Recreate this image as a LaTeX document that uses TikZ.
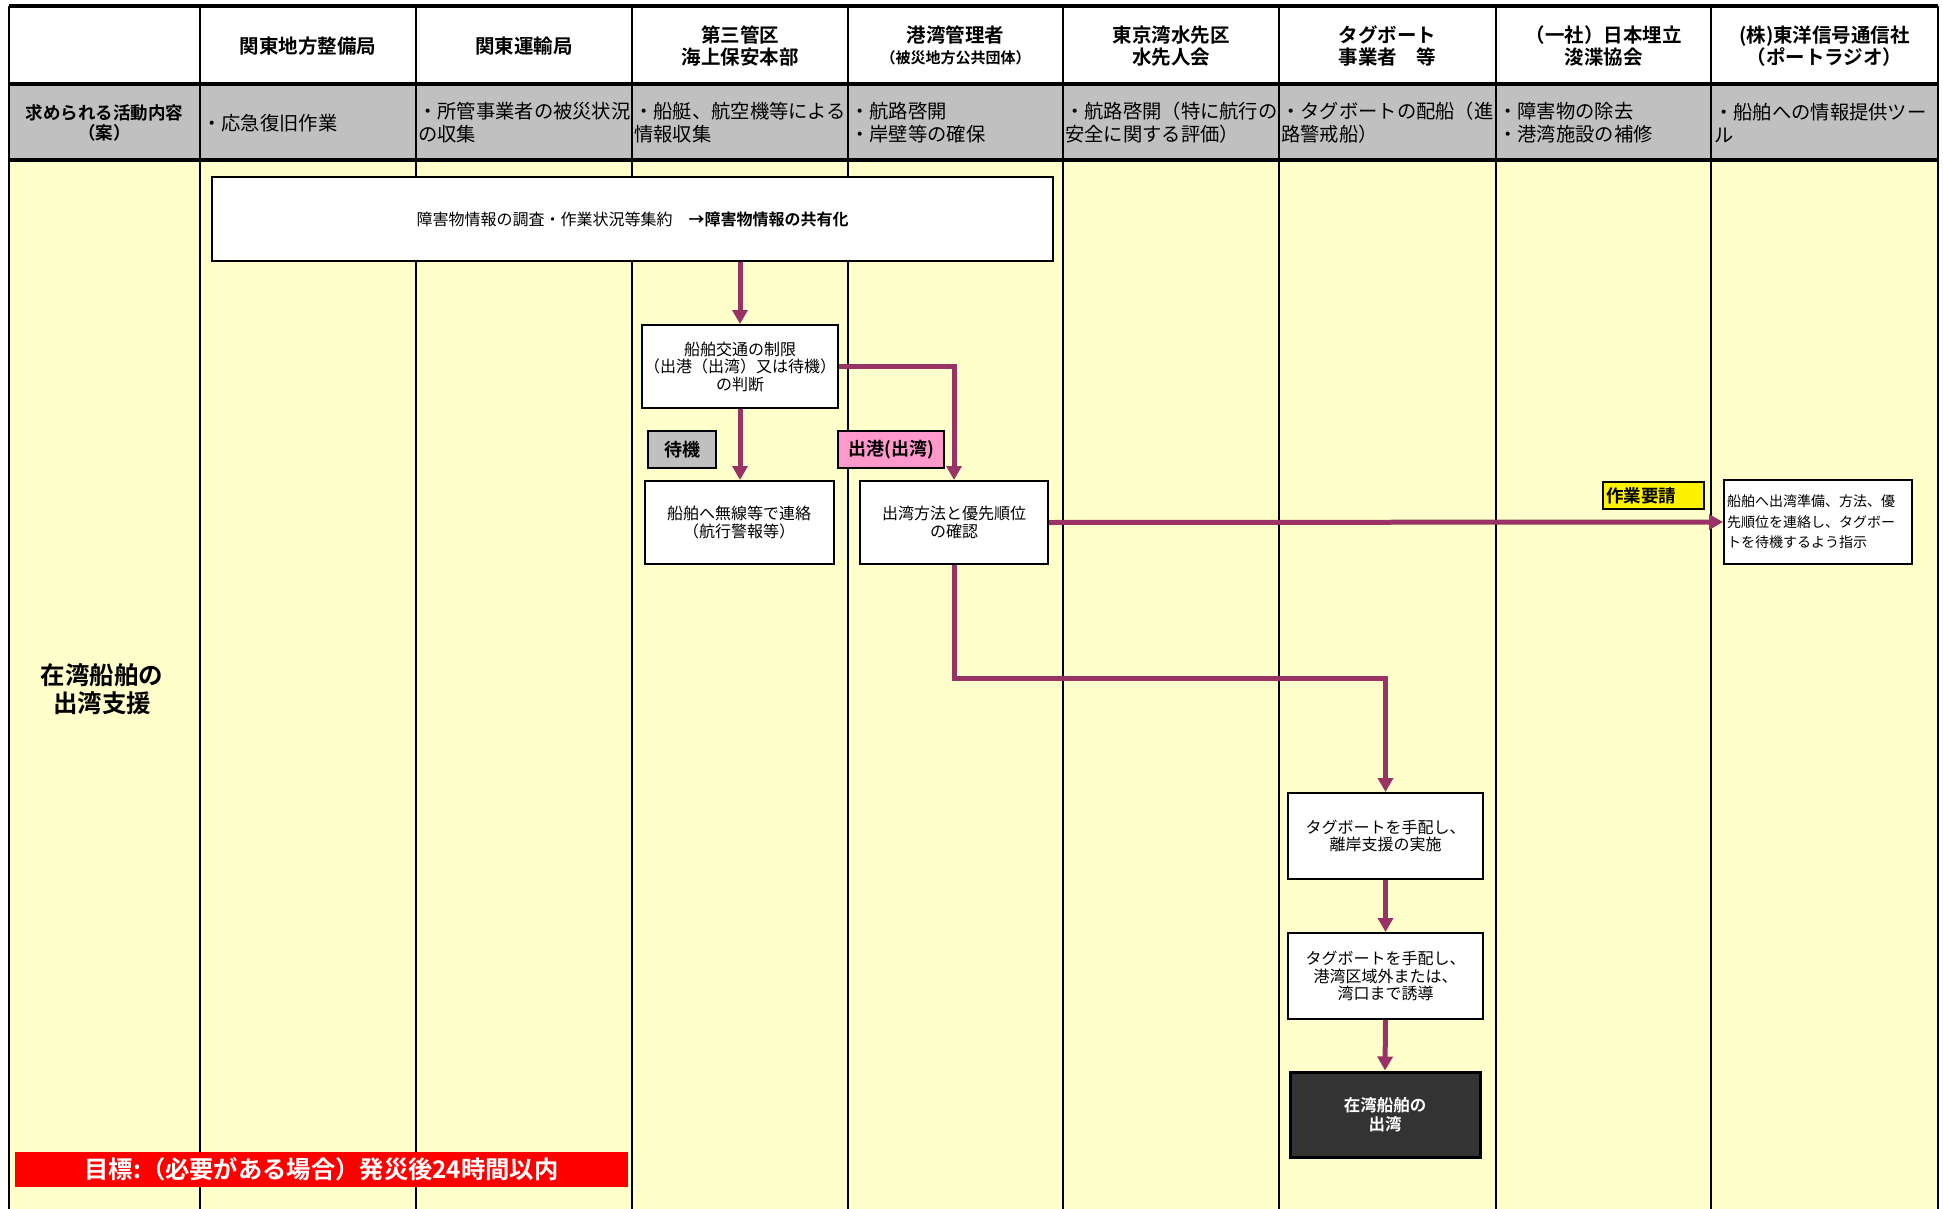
\documentclass[tikz,border=0pt]{standalone}
\usepackage{fontspec}
\setmainfont{Noto Sans CJK JP}[BoldFont={* Bold}]
\usetikzlibrary{arrows.meta}
\definecolor{bgyellow}{HTML}{FFFFCC}
\definecolor{rowgrey}{HTML}{C0C0C0}
\definecolor{arrowc}{HTML}{993366}
\definecolor{pinklab}{HTML}{FF99CC}
\definecolor{darkbox}{HTML}{333333}
\begin{document}
\begin{tikzpicture}[x=1pt,y=-1pt,
  hdr/.style={font=\bfseries\fontsize{19.5}{22}\selectfont,align=center,inner sep=0pt},
  act/.style={font=\fontsize{19.3}{23}\selectfont,align=left,anchor=west,inner sep=1pt},
  box/.style={draw,line width=2pt,fill=white,align=center,inner sep=2pt,font=\fontsize{16}{17.5}\selectfont},
  lab/.style={draw,line width=2pt,align=center,inner sep=0pt,font=\bfseries\fontsize{18}{20}\selectfont},
  arr/.style={draw=arrowc,line width=5pt,-{Triangle[length=14pt,width=15pt]}},
  grid/.style={line width=2.5pt},
  rowline/.style={line width=3.5pt}]
\useasboundingbox (0,0) rectangle (1943,1209);
\fill[white] (0,0) rectangle (1943,1209);
\fill[bgyellow] (9,160) rectangle (1938,1209);
\fill[rowgrey] (9,84) rectangle (1938,160);
\foreach \x in {9,200,416,632,848,1063,1279,1496,1711,1938}
  \draw[grid] (\x,6) -- (\x,1209);
\foreach \y in {6,84,160}
  \draw[rowline] (9,\y) -- (1938,\y);

% header row
\node[hdr] (h1) at (308,46) {関東地方整備局};
\node[hdr] (h2) at (524,46) {関東運輸局};
\node[hdr] (h3) at (740,46) {第三管区\\海上保安本部};
\node[hdr,font=\bfseries\fontsize{19.5}{21}\selectfont] (h4) at (955.5,45) {港湾管理者\\{\fontsize{15}{16}\selectfont（被災地方公共団体）}};
\node[hdr] (h5) at (1171,46) {東京湾水先区\\水先人会};
\node[hdr] (h6) at (1387.5,46) {タグボート\\事業者　等};
\node[hdr] (h7) at (1603.5,46) {（一社）日本埋立\\浚渫協会};
\node[hdr] (h8) at (1824.5,46) {(株)東洋信号通信社\\（ポートラジオ）};

% activity row
\node[hdr,font=\bfseries\fontsize{17.5}{20}\selectfont] (a0) at (104.5,123) {求められる活動内容\\（案）};
\node[act] (a1) at (201,123) {・応急復旧作業};
\node[act] (a2) at (417,123) {・所管事業者の被災状況\\の収集};
\node[act] (a3) at (633,123) {・船艇、航空機等による\\情報収集};
\node[act] (a4) at (849,123) {・航路啓開\\・岸壁等の確保};
\node[act] (a5) at (1064,123) {・航路啓開（特に航行の\\安全に関する評価）};
\node[act] (a6) at (1280,123) {・タグボートの配船（進\\路警戒船）};
\node[act] (a7) at (1497,123) {・障害物の除去\\・港湾施設の補修};
\node[act] (a8) at (1713,123) {・船舶への情報提供ツー\\ル};

% row label
\node[font=\bfseries\fontsize{24.5}{28}\selectfont,align=center] (goal) at (102,689) {在湾船舶の\\出湾支援};

% flow boxes
\node[box,minimum width=841,minimum height=84] (big) at (632.5,219) {障害物情報の調査・作業状況等集約　\textbf{→障害物情報の共有化}};
\node[box,minimum width=195,minimum height=83] (judge) at (740,366.5) {船舶交通の制限\\（出港（出湾）又は待機）\\の判断};
\node[box,minimum width=189,minimum height=83] (radio) at (739,522.5) {船舶へ無線等で連絡\\（航行警報等）};
\node[box,minimum width=188,minimum height=83] (order) at (954,522.5) {出湾方法と優先順位\\の確認};
\node[lab,fill=rowgrey,minimum width=68,minimum height=37] (wait) at (682,449.5) {待機};
\node[lab,fill=pinklab,minimum width=106,minimum height=37] (depart) at (891,449.5) {出港(出湾)};
\node[lab,fill=yellow,minimum height=27,text width=95,align=left,inner xsep=3pt,font=\bfseries\fontsize{17.5}{18}\selectfont] (req) at (1653.5,495.5) {作業要請};
\node[box,minimum width=188,minimum height=84,text width=182,align=left,inner sep=3pt,font=\fontsize{14}{20.5}\selectfont] (radio2) at (1818,522) {船舶へ出湾準備、方法、優\\先順位を連絡し、タグボー\\トを待機するよう指示};
\node[box,minimum width=195,minimum height=86] (tug1) at (1385.5,836) {タグボートを手配し、\\離岸支援の実施};
\node[box,minimum width=195,minimum height=86] (tug2) at (1385.5,976) {タグボートを手配し、\\港湾区域外または、\\湾口まで誘導};
\node[box,line width=3pt,fill=darkbox,text=white,minimum width=190,minimum height=85,font=\bfseries\fontsize{16.5}{19}\selectfont] (done) at (1385,1114.5) {在湾船舶の\\出湾};

% target bar
\node[fill=red,text=white,minimum width=613,minimum height=35,inner sep=0pt,font=\bfseries\fontsize{24.3}{26}\selectfont] (target) at (321.5,1169.5) {目標:（必要がある場合）発災後24時間以内};

% connectors
\draw[arr] (big.south -| judge.north) -- (judge.north);
\draw[arr] (judge.south) -- (judge.south |- radio.north);
\draw[arr] (judge.east) -| (order.north);
\draw[arr] (order.east) -- (radio2.west);
\coordinate (turn) at (954,678);
\draw[arr] (order.south) -- (turn) -| (tug1.north);
\draw[arr] (tug1.south) -- (tug2.north);
\draw[arr] (tug2.south) -- (done.north);
\end{tikzpicture}
\end{document}
